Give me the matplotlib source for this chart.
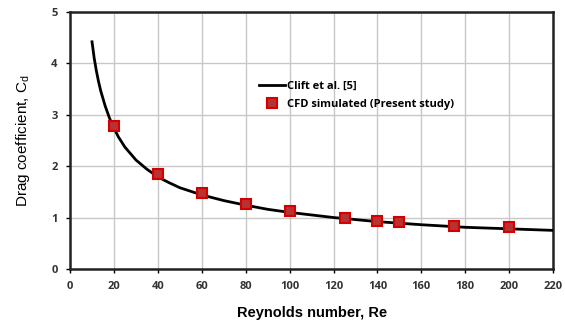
import numpy as np
import matplotlib.pyplot as plt

# Clift et al. correlation curve
re_clift = [10, 11, 12, 13, 14, 16, 18, 20, 22, 25, 30, 35, 40, 45, 50, 60, 70,
            80, 90, 100, 120, 140, 160, 180, 200, 220]
cd_clift = [4.42, 4.10, 3.85, 3.64, 3.46, 3.17, 2.93, 2.74, 2.57, 2.37, 2.12,
            1.94, 1.79, 1.68, 1.58, 1.44, 1.33, 1.24, 1.16, 1.10, 1.00, 0.92,
            0.86, 0.81, 0.78, 0.75]

# CFD simulated points (present study)
re_cfd = [20, 40, 60, 80, 100, 125, 140, 150, 175, 200]
cd_cfd = [2.78, 1.84, 1.48, 1.27, 1.13, 0.99, 0.93, 0.91, 0.84, 0.81]

fig = plt.figure(figsize=(5.65, 3.24), dpi=100)
ax = fig.add_axes([0.124, 0.170, 0.855, 0.793])

ax.plot(re_clift, cd_clift, color='black', lw=2, label='Clift et al. [5]', zorder=3)
ax.plot(re_cfd, cd_cfd, 's', ms=6.5, mfc='#b83232', mec='#d40000', mew=1.5,
        ls='none', label='CFD simulated (Present study)', zorder=4)

ax.set_xlim(0, 220)
ax.set_ylim(0, 5)
ax.set_xticks(np.arange(0, 221, 20))
ax.set_yticks(np.arange(0, 6, 1))
ax.grid(True, color='#c8c8c8', lw=1)
ax.set_axisbelow(True)

for s in ax.spines.values():
    s.set_linewidth(1.8)
    s.set_color('#222222')

ax.tick_params(direction='out', length=3, width=1, labelsize=8, pad=6,
               labelcolor='#333333')
for lbl in ax.get_xticklabels() + ax.get_yticklabels():
    lbl.set_fontweight('bold')
    lbl.set_family('Open Sans')

ax.set_xlabel('Reynolds number, Re', fontsize=10.5, fontweight='bold',
              family='Liberation Sans', labelpad=10)
ax.set_ylabel('Drag coefficient, C$_\\mathregular{d}$', fontsize=11,
              family='Liberation Sans', labelpad=14)

leg = ax.legend(loc='upper left', bbox_to_anchor=(0.37, 0.77), frameon=False,
                handlelength=2.4, handletextpad=0.1, labelspacing=0.6,
                prop={'family': 'Open Sans', 'weight': 'bold', 'size': 8})

fig.savefig('out.png', dpi=100)
